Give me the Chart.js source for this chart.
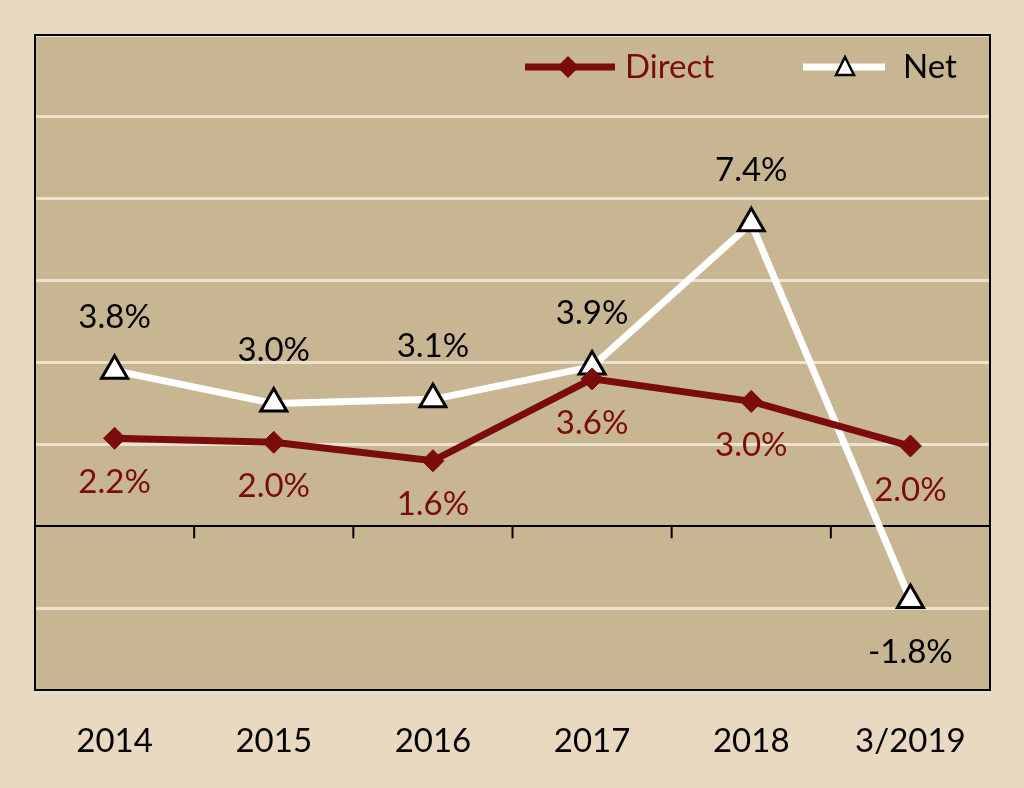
<!DOCTYPE html>
<html><head><meta charset="utf-8">
<script src="https://cdn.jsdelivr.net/npm/chart.js@4.4.0/dist/chart.umd.min.js"></script>
<style>html,body{margin:0;background:#e9d9c1}canvas{display:block}</style>
</head><body>
<canvas id="c" width="1024" height="788"></canvas>
<script>
const categories = ['2014', '2015', '2016', '2017', '2018', '3/2019'];
const directValues = [2.15, 2.05, 1.6, 3.6, 3.05, 1.96];
const netValues = [3.8, 3.0, 3.1, 3.9, 7.4, -1.8];
const directLabels = ['2.2%', '2.0%', '1.6%', '3.6%', '3.0%', '2.0%'];
const netLabels = ['3.8%', '3.0%', '3.1%', '3.9%', '7.4%', '-1.8%'];

const RED = '#7b0c0c';
const FONT = 'Lato, "Open Sans", sans-serif';

const extras = {
  id: 'extras',
  beforeDraw(chart) {
    const { ctx, chartArea: a } = chart;
    ctx.save();
    ctx.fillStyle = '#c8b591';
    ctx.fillRect(a.left, a.top, a.right - a.left, a.bottom - a.top);
    ctx.restore();
  },
  afterDraw(chart) {
    const { ctx, chartArea: a, scales } = chart;
    const y0 = scales.y.getPixelForValue(0);
    ctx.save();
    ctx.strokeStyle = '#000';
    ctx.lineWidth = 2;
    // tick marks between categories on zero line
    for (let i = 1; i < categories.length; i++) {
      const x = (scales.x.getPixelForValue(i - 1) + scales.x.getPixelForValue(i)) / 2;
      ctx.beginPath(); ctx.moveTo(x, y0); ctx.lineTo(x, y0 + 12); ctx.stroke();
    }
    ctx.strokeRect(a.left, a.top, a.right - a.left, a.bottom - a.top);
    // data labels
    ctx.font = '33px ' + FONT;
    ctx.textAlign = 'center';
    ctx.textBaseline = 'middle';
    const mDir = chart.getDatasetMeta(0).data, mNet = chart.getDatasetMeta(1).data;
    mDir.forEach((p, i) => { ctx.fillStyle = RED; ctx.fillText(directLabels[i], p.x, p.y + 44); });
    mNet.forEach((p, i) => {
      ctx.fillStyle = '#000';
      ctx.fillText(netLabels[i], p.x, netValues[i] < 0 ? p.y + 52 : p.y - 53);
    });
    // legend
    const ly = 67;
    ctx.lineWidth = 7;
    ctx.strokeStyle = RED;
    ctx.beginPath(); ctx.moveTo(525, ly); ctx.lineTo(615, ly); ctx.stroke();
    ctx.fillStyle = RED;
    ctx.beginPath(); ctx.moveTo(568, ly - 11); ctx.lineTo(579, ly); ctx.lineTo(568, ly + 11); ctx.lineTo(557, ly); ctx.closePath(); ctx.fill();
    ctx.textAlign = 'left';
    ctx.fillText('Direct', 625, ly);
    ctx.strokeStyle = '#fff';
    ctx.beginPath(); ctx.moveTo(803, ly); ctx.lineTo(885, ly); ctx.stroke();
    ctx.fillStyle = '#fff'; ctx.strokeStyle = '#000'; ctx.lineWidth = 2.5;
    ctx.beginPath(); ctx.moveTo(845, ly - 10); ctx.lineTo(854, ly + 8); ctx.lineTo(836, ly + 8); ctx.closePath(); ctx.fill(); ctx.stroke();
    ctx.fillStyle = '#000';
    ctx.fillText('Net', 903, ly);
    ctx.restore();
  }
};

new Chart(document.getElementById('c'), {
  type: 'line',
  data: {
    labels: categories,
    datasets: [
      { label: 'Direct', data: directValues, borderColor: RED, borderWidth: 7,
        pointStyle: 'rectRot', pointRadius: 11, pointBackgroundColor: RED, pointBorderColor: RED, pointBorderWidth: 1 },
      { label: 'Net', data: netValues, borderColor: '#fff', borderWidth: 7,
        pointStyle: 'triangle', pointRadius: 15, pointBackgroundColor: '#fff', pointBorderColor: '#000', pointBorderWidth: 3 }
    ]
  },
  options: {
    responsive: false, animation: false,
    layout: { padding: { top: 35, left: 35, right: 34 } },
    plugins: { legend: { display: false }, tooltip: { enabled: false } },
    scales: {
      x: {
        offset: true,
        grid: { display: false }, border: { display: false },
        ticks: { color: '#000', font: { size: 33, family: FONT }, padding: 24 },
        afterFit(s) { s.height = 98; }
      },
      y: {
        min: -4, max: 12,
        ticks: { display: false, stepSize: 2 },
        border: { display: false },
        grid: { drawTicks: false, color: c => c.tick.value === 0 ? '#000' : '#ece2cf', lineWidth: c => c.tick.value === 0 ? 2 : 3 },
        afterFit(s) { s.width = 0; }
      }
    }
  },
  plugins: [extras]
});
</script>
</body></html>
